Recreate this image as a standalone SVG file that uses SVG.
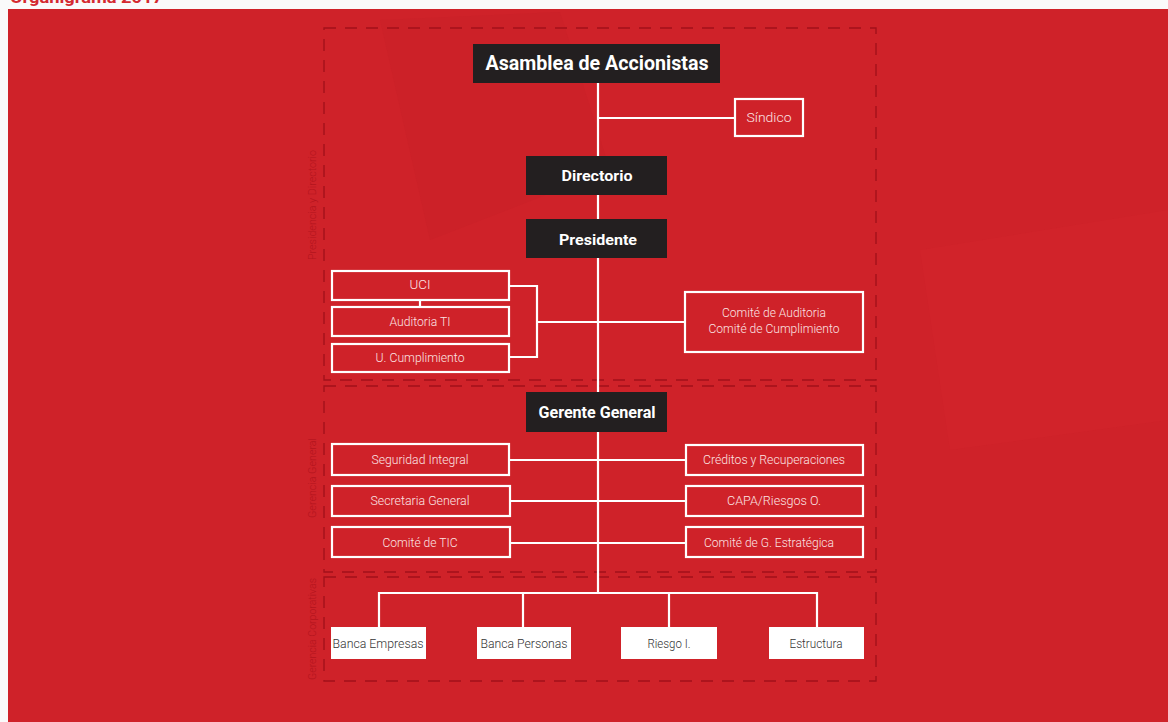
<svg xmlns="http://www.w3.org/2000/svg" width="1168" height="722" viewBox="0 0 1168 722">
<style>
.dash{fill:none;stroke:#a3111a;stroke-width:1.4;stroke-dasharray:12 9}
.grp{font-family:Roboto,"Liberation Sans",sans-serif;font-size:10px;font-weight:300;fill:#b3141d}
.dark{fill:#231f20}
.bt{font-family:Roboto,"Liberation Sans",sans-serif;font-weight:bold;fill:#ffffff;text-anchor:middle}
.ob{fill:none;stroke:#ffffff;stroke-width:2.2}
.ot{font-family:Roboto,"Liberation Sans",sans-serif;font-size:12.5px;font-weight:300;fill:#fbe4e4;text-anchor:middle}
.wb{fill:#ffffff}
.wt{font-family:Roboto,"Liberation Sans",sans-serif;font-size:12.5px;font-weight:300;fill:#333333;text-anchor:middle}
.ln{fill:none;stroke:#ffffff;stroke-width:2.2}
</style>
<rect x="0" y="0" width="1168" height="722" fill="#fafafa"/>
<text x="10" y="2.5" font-family="Roboto,'Liberation Sans',sans-serif" font-weight="bold" font-size="17" fill="#d42a30" textLength="153" lengthAdjust="spacingAndGlyphs">Organigrama 2017</text>
<rect x="8" y="9" width="1160" height="713" fill="#cf2229"/>
<g id="bg-shapes" opacity="0.35">
<polygon points="380,20 560,12 610,170 430,240" fill="#c71f27"/>
<polygon points="920,250 1168,210 1168,420 950,450" fill="#d4262e"/>
</g>
<g id="groups">
<rect class="dash" x="324" y="28" width="552" height="352"/>
<rect class="dash" x="324" y="386" width="552" height="186"/>
<rect class="dash" x="324" y="577" width="552" height="104"/>
<text class="grp" transform="translate(316,205) rotate(-90)" text-anchor="middle" textLength="110" lengthAdjust="spacingAndGlyphs">Presidencia y Directorio</text>
<text class="grp" transform="translate(316,478) rotate(-90)" text-anchor="middle" textLength="80" lengthAdjust="spacingAndGlyphs">Gerencia General</text>
<text class="grp" transform="translate(316,629) rotate(-90)" text-anchor="middle" textLength="102" lengthAdjust="spacingAndGlyphs">Gerencia Corporativas</text>
</g>
<g id="connectors">
<line class="ln" x1="598" y1="83" x2="598" y2="593"/>
<line class="ln" x1="598" y1="118" x2="734" y2="118"/>
<line class="ln" x1="420" y1="300" x2="420" y2="306"/>
<polyline class="ln" points="509,286 537,286 537,357 509,357"/>
<line class="ln" x1="537" y1="322" x2="685" y2="322"/>
<line class="ln" x1="509" y1="460" x2="686" y2="460"/>
<line class="ln" x1="510" y1="501" x2="686" y2="501"/>
<line class="ln" x1="510" y1="543" x2="686" y2="543"/>
<polyline class="ln" points="379,627 379,593 817,593 817,627"/>
<line class="ln" x1="523" y1="593" x2="523" y2="627"/>
<line class="ln" x1="669" y1="593" x2="669" y2="627"/>
</g>
<g id="asamblea"><rect class="dark" x="473" y="44" width="247" height="39"/><text class="bt" x="597" y="70" font-size="20" textLength="223" lengthAdjust="spacingAndGlyphs">Asamblea de Accionistas</text></g>
<g id="sindico"><rect class="ob" x="735" y="99" width="68" height="37"/><text class="ot" x="769" y="122" font-size="13.5" textLength="45" lengthAdjust="spacingAndGlyphs">Síndico</text></g>
<g id="directorio"><rect class="dark" x="526" y="156" width="141" height="39"/><text class="bt" x="597" y="181" font-size="15" textLength="71" lengthAdjust="spacingAndGlyphs">Directorio</text></g>
<g id="presidente"><rect class="dark" x="526" y="219" width="141" height="39"/><text class="bt" x="598" y="245" font-size="15" textLength="78" lengthAdjust="spacingAndGlyphs">Presidente</text></g>
<g id="uci"><rect class="ob" x="332" y="271" width="177" height="29"/><text class="ot" x="420" y="289" textLength="21" lengthAdjust="spacingAndGlyphs">UCI</text></g>
<g id="auditoria-ti"><rect class="ob" x="332" y="307" width="177" height="29"/><text class="ot" x="420" y="326" textLength="61" lengthAdjust="spacingAndGlyphs">Auditoria TI</text></g>
<g id="u-cumplimiento"><rect class="ob" x="332" y="344" width="177" height="28"/><text class="ot" x="420" y="362" textLength="89" lengthAdjust="spacingAndGlyphs">U. Cumplimiento</text></g>
<g id="comites"><rect class="ob" x="685" y="292" width="178" height="60"/><text class="ot" x="774" y="317" textLength="104" lengthAdjust="spacingAndGlyphs">Comité de Auditoria</text><text class="ot" x="774" y="333" textLength="131" lengthAdjust="spacingAndGlyphs">Comité de Cumplimiento</text></g>
<g id="gerente-general"><rect class="dark" x="526" y="392" width="141" height="40"/><text class="bt" x="597" y="418" font-size="16" textLength="117" lengthAdjust="spacingAndGlyphs">Gerente General</text></g>
<g id="seguridad-integral"><rect class="ob" x="332" y="444" width="177" height="31"/><text class="ot" x="420" y="464" textLength="97" lengthAdjust="spacingAndGlyphs">Seguridad Integral</text></g>
<g id="secretaria-general"><rect class="ob" x="332" y="486" width="178" height="30"/><text class="ot" x="420" y="505" textLength="99" lengthAdjust="spacingAndGlyphs">Secretaria General</text></g>
<g id="comite-tic"><rect class="ob" x="332" y="527" width="178" height="30"/><text class="ot" x="420" y="547" textLength="75" lengthAdjust="spacingAndGlyphs">Comité de TIC</text></g>
<g id="creditos"><rect class="ob" x="686" y="445" width="177" height="30"/><text class="ot" x="774" y="464" textLength="142" lengthAdjust="spacingAndGlyphs">Créditos y Recuperaciones</text></g>
<g id="capa"><rect class="ob" x="686" y="486" width="177" height="30"/><text class="ot" x="774" y="505" textLength="94" lengthAdjust="spacingAndGlyphs">CAPA/Riesgos O.</text></g>
<g id="comite-ge"><rect class="ob" x="686" y="527" width="177" height="30"/><text class="ot" x="769" y="547" textLength="130" lengthAdjust="spacingAndGlyphs">Comité de G. Estratégica</text></g>
<g id="banca-empresas"><rect class="wb" x="331" y="627" width="95" height="32"/><text class="wt" x="378" y="648" textLength="91" lengthAdjust="spacingAndGlyphs">Banca Empresas</text></g>
<g id="banca-personas"><rect class="wb" x="477" y="627" width="94" height="32"/><text class="wt" x="524" y="648" textLength="87" lengthAdjust="spacingAndGlyphs">Banca Personas</text></g>
<g id="riesgo"><rect class="wb" x="621" y="627" width="96" height="32"/><text class="wt" x="669" y="648" textLength="43" lengthAdjust="spacingAndGlyphs">Riesgo I.</text></g>
<g id="estructura"><rect class="wb" x="769" y="627" width="95" height="32"/><text class="wt" x="816" y="648" textLength="53" lengthAdjust="spacingAndGlyphs">Estructura</text></g>
</svg>
